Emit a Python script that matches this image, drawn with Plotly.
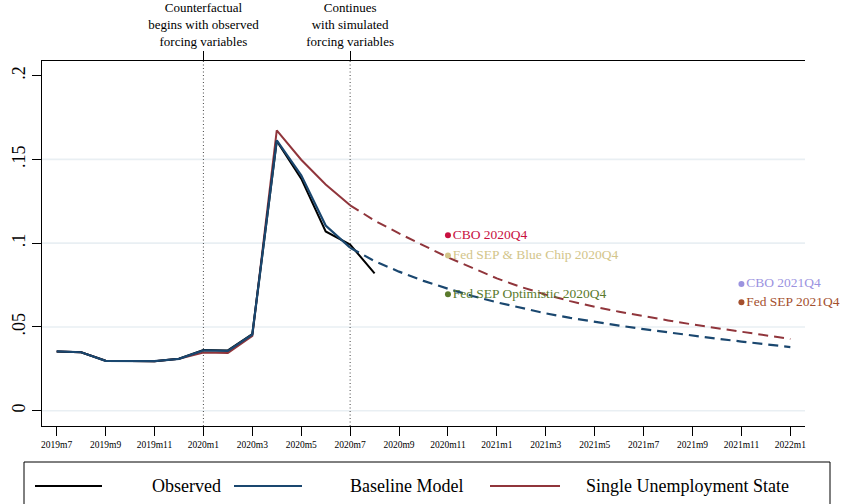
import plotly.graph_objects as go

# ---------------- data ----------------
# month index: 0 = 2019m7 ... 30 = 2022m1
month_index = list(range(31))
tick_index = list(range(0, 31, 2))
tick_labels = ["2019m7", "2019m9", "2019m11", "2020m1", "2020m3", "2020m5", "2020m7",
               "2020m9", "2020m11", "2021m1", "2021m3", "2021m5", "2021m7", "2021m9",
               "2021m11", "2022m1"]

observed = [0.0354, 0.0349, 0.0298, 0.0298, 0.0296, 0.0310, 0.0363, 0.0360, 0.0458,
            0.1610, 0.1385, 0.1070, 0.0992, 0.0820]

baseline = [0.0354, 0.0349, 0.0298, 0.0298, 0.0296, 0.0310, 0.0360, 0.0357, 0.0455,
            0.1613, 0.1405, 0.1105, 0.0973, 0.0893, 0.0830, 0.0775, 0.0728, 0.0685,
            0.0647, 0.0612, 0.0581, 0.0554, 0.0530, 0.0508, 0.0487, 0.0467, 0.0448,
            0.0430, 0.0413, 0.0397, 0.0380]

single_state = [0.0354, 0.0349, 0.0298, 0.0298, 0.0296, 0.0310, 0.0348, 0.0345, 0.0446,
                0.1673, 0.1498, 0.1350, 0.1226, 0.1135, 0.1058, 0.0985, 0.0915, 0.0853,
                0.0790, 0.0738, 0.0693, 0.0654, 0.0620, 0.0591, 0.0564, 0.0539, 0.0515,
                0.0493, 0.0472, 0.0450, 0.0428]

simulation_start = 12  # 2020m7: dashed from here on
event_index = [6, 12]
event_labels = ["Counterfactual<br>begins with observed<br>forcing variables",
                "Continues<br>with simulated<br>forcing variables"]

forecast_labels = ["CBO 2020Q4", "Fed SEP & Blue Chip 2020Q4", "Fed SEP Optimistic 2020Q4",
                   "CBO 2021Q4", "Fed SEP 2021Q4"]
forecast_x = [16, 16, 16, 28, 28]
forecast_y = [0.1047, 0.0927, 0.0695, 0.0757, 0.0648]
forecast_colors = ["#c8103f", "#d3c58a", "#5a7a2c", "#9b93df", "#a4502e"]

series_names = ["Observed", "Baseline Model", "Single Unemployment State"]
series_colors = ["#000000", "#1a476f", "#90353b"]

y_range = [-0.0091, 0.2087]
y_ticks = [0, 0.05, 0.1, 0.15, 0.2]
y_tick_labels = ["0", ".05", ".1", ".15", ".2"]
grid_values = [0, 0.05, 0.1, 0.15]

FONT = "Liberation Serif"

# ---------------- figure ----------------
fig = go.Figure()

s = simulation_start
# event markers (vertical dotted lines) on the top axis
ev_x, ev_y = [], []
for e in event_index:
    ev_x += [e, e, None]
    ev_y += [y_range[0], y_range[1], None]
fig.add_trace(go.Scatter(x=ev_x, y=ev_y, mode="lines", xaxis="x2",
                         line=dict(color="#444444", width=1, dash="1px,2.5px"),
                         showlegend=False, hoverinfo="skip"))

# single state (drawn first, underneath)
fig.add_trace(go.Scatter(x=month_index[:s + 1], y=single_state[:s + 1], mode="lines",
                         line=dict(color=series_colors[2], width=2), name=series_names[2],
                         showlegend=False, hoverinfo="skip"))
fig.add_trace(go.Scatter(x=month_index[s:], y=single_state[s:], mode="lines",
                         line=dict(color=series_colors[2], width=2, dash="10px,6px"),
                         showlegend=False, hoverinfo="skip"))
# observed
fig.add_trace(go.Scatter(x=month_index[:len(observed)], y=observed, mode="lines",
                         line=dict(color=series_colors[0], width=2), name=series_names[0],
                         showlegend=False, hoverinfo="skip"))
# baseline
fig.add_trace(go.Scatter(x=month_index[:s + 1], y=baseline[:s + 1], mode="lines",
                         line=dict(color=series_colors[1], width=2.2), name=series_names[1],
                         showlegend=False, hoverinfo="skip"))
fig.add_trace(go.Scatter(x=month_index[s:], y=baseline[s:], mode="lines",
                         line=dict(color=series_colors[1], width=2.2, dash="10px,6px"),
                         showlegend=False, hoverinfo="skip"))
# forecasts
fig.add_trace(go.Scatter(x=forecast_x, y=forecast_y, mode="markers+text",
                         marker=dict(color=forecast_colors, size=6),
                         text=forecast_labels, textposition="middle right",
                         textfont=dict(family=FONT, size=13.5, color=forecast_colors),
                         cliponaxis=False, showlegend=False, hoverinfo="skip"))

# plot geometry (px) for paper conversions of the hand-made legend
W, H = 842, 504
ml, mr, mt, mb = 42, 37, 61, 78
pw, ph = W - ml - mr, H - mt - mb


def px(x):
    return (x - ml) / pw


def py(y):
    return (H - mb - y) / ph


shapes = []
for g in grid_values:
    shapes.append(dict(type="line", xref="paper", yref="y", x0=0, x1=1, y0=g, y1=g,
                       line=dict(color="#e9eff3", width=1.6), layer="below"))

# legend box
shapes.append(dict(type="rect", xref="paper", yref="paper", x0=px(24), x1=px(830),
                   y0=py(515), y1=py(462), line=dict(color="#000000", width=1)))
legend_lines = [(35, 102), (234, 302), (490, 560)]
legend_text_x = [150, 348, 584]
annotations = []
for (a, b), tx, name, col in zip(legend_lines, legend_text_x, series_names, series_colors):
    shapes.append(dict(type="line", xref="paper", yref="paper", x0=px(a), x1=px(b),
                       y0=py(486), y1=py(486), line=dict(color=col, width=2)))
    annotations.append(dict(xref="paper", yref="paper", x=px(tx), y=py(486), text=name,
                            showarrow=False, xanchor="left", yanchor="middle",
                            font=dict(family=FONT, size=18, color="#000000")))

fig.update_layout(
    width=W, height=H,
    margin=dict(l=ml, r=mr, t=mt, b=mb, autoexpand=False),
    paper_bgcolor="white", plot_bgcolor="white",
    font=dict(family=FONT, color="#000000"),
    showlegend=False,
    xaxis=dict(range=[-0.6, 30.6], tickvals=tick_index, ticktext=tick_labels,
               ticks="outside", ticklen=9, tickwidth=1, tickcolor="#000000",
               showline=True, linecolor="#000000", linewidth=1.2, showgrid=False,
               zeroline=False, tickfont=dict(family=FONT, size=9.5), automargin=False),
    xaxis2=dict(range=[-0.6, 30.6], overlaying="x", side="top", anchor="y",
                tickvals=event_index, ticktext=event_labels,
                ticks="outside", ticklen=9, tickwidth=1, tickcolor="#000000",
                showline=True, linecolor="#000000", linewidth=1.2, showgrid=False,
                zeroline=False, tickfont=dict(family=FONT, size=13), automargin=False),
    yaxis=dict(range=y_range, tickvals=y_ticks, ticktext=y_tick_labels,
               tickangle=-90, ticks="outside", ticklen=9, tickwidth=1, tickcolor="#000000",
               showline=True, linecolor="#000000", linewidth=1.2, showgrid=False,
               zeroline=False, tickfont=dict(family=FONT, size=18), automargin=False),
    shapes=shapes,
    annotations=annotations,
)

fig.write_html("out.html")
